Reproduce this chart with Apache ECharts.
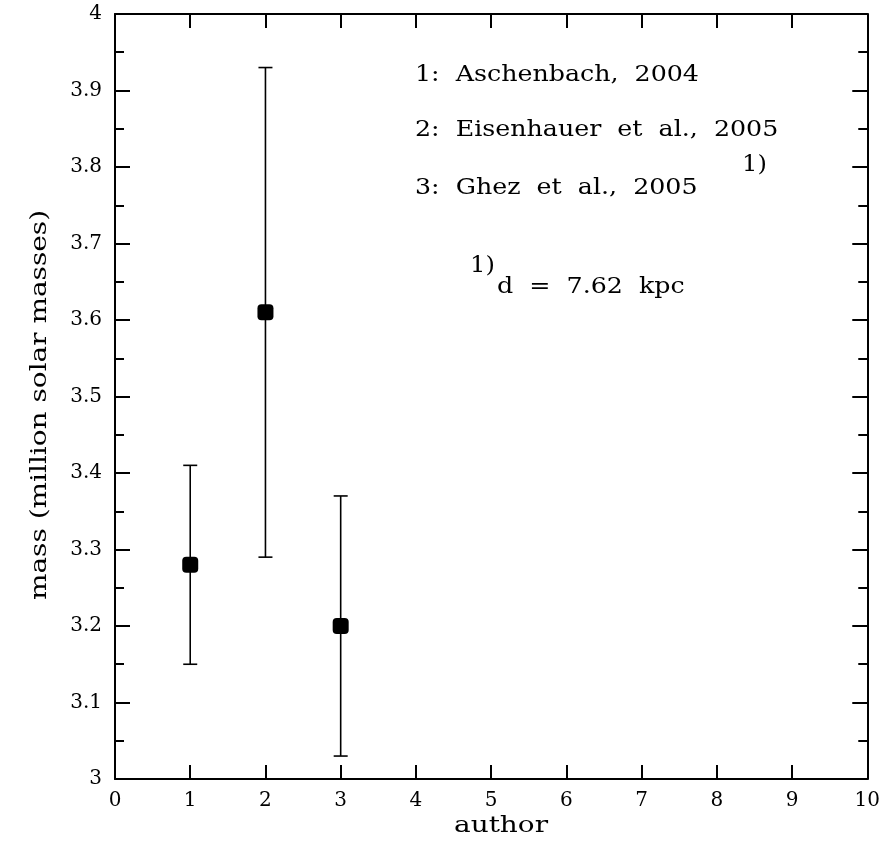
<!DOCTYPE html>
<html><head><meta charset="utf-8">
<script src="https://cdn.jsdelivr.net/npm/echarts@6/dist/echarts.min.js"></script>
<style>html,body{margin:0;padding:0;background:#fff}#c{width:883px;height:848px}</style>
</head><body><div id="c"></div>
<script>
const authors = [1, 2, 3];
const masses = [3.28, 3.61, 3.20];
const lowErr = [3.15, 3.29, 3.03];
const highErr = [3.41, 3.93, 3.37];
const xTicks = [0,1,2,3,4,5,6,7,8,9,10];
const yTicks = [3,3.1,3.2,3.3,3.4,3.5,3.6,3.7,3.8,3.9,4];
const notes = ['1:  Aschenbach,  2004', '2:  Eisenhauer  et  al.,  2005', '3:  Ghez  et  al.,  2005'];
const footnote = 'd  =  7.62  kpc';
const xTitle = 'author';
const yTitle = 'mass (million solar masses)';

const FONT = 'DejaVu Serif';
const chart = echarts.init(document.getElementById('c'));
const axisLine = {show:true, onZero:false, lineStyle:{color:'#000', width:2}};
const majorTick = (len)=>({show:true, inside:true, length:len, lineStyle:{color:'#000', width:2}});
const minorTick = {show:true, splitNumber:2, length:9, lineStyle:{color:'#000', width:2}};
const pts = authors.map((a,i)=>[a, masses[i]]);
const errs = authors.map((a,i)=>[a, lowErr[i], highErr[i]]);
function txt(s, x, y, size, sx, opts){
  return Object.assign({type:'text', x:x, y:y, scaleX:sx, silent:true,
    style:{text:s, x:0, y:0, font:size+'px "'+FONT+'"', fill:'#000',
      textAlign:(opts&&opts.align)||'left', textVerticalAlign:'middle'}}, opts&&opts.extra||{});
}
chart.setOption({
  animation:false,
  grid:{left:115, top:14, width:753, height:765, containLabel:false},
  xAxis:[
    {type:'value', min:xTicks[0], max:xTicks[xTicks.length-1], interval:1, position:'bottom',
     axisLine, axisTick:majorTick(14), splitLine:{show:false},
     axisLabel:{color:'#000', fontFamily:FONT, fontSize:20, margin:12}},
    {type:'value', min:0, max:10, interval:1, position:'top',
     axisLine, axisTick:majorTick(14), axisLabel:{show:false}, splitLine:{show:false}}
  ],
  yAxis:[
    {type:'value', min:yTicks[0], max:yTicks[yTicks.length-1], interval:0.1, position:'left',
     axisLine, axisTick:majorTick(15), minorTick,
     splitLine:{show:false}, minorSplitLine:{show:false},
     axisLabel:{color:'#000', fontFamily:FONT, fontSize:20, margin:13}},
    {type:'value', min:3, max:4, interval:0.1, position:'right',
     axisLine, axisTick:majorTick(15), minorTick,
     axisLabel:{show:false}, splitLine:{show:false}, minorSplitLine:{show:false}}
  ],
  series:[
    {type:'custom', xAxisIndex:0, yAxisIndex:0, data:errs,
     renderItem:function(params, api){
       const x = api.value(0), lo = api.value(1), hi = api.value(2);
       const p1 = api.coord([x, lo]), p2 = api.coord([x, hi]);
       const w = 7;
       const st = {stroke:'#000', lineWidth:1.6};
       return {type:'group', children:[
         {type:'line', shape:{x1:p1[0], y1:p1[1], x2:p2[0], y2:p2[1]}, style:st},
         {type:'line', shape:{x1:p1[0]-w, y1:p1[1], x2:p1[0]+w, y2:p1[1]}, style:st},
         {type:'line', shape:{x1:p2[0]-w, y1:p2[1], x2:p2[0]+w, y2:p2[1]}, style:st}
       ]};
     }},
    {type:'scatter', xAxisIndex:0, yAxisIndex:0, data:pts, symbol:'roundRect', symbolSize:16,
     itemStyle:{color:'#000', opacity:1}, z:5}
  ],
  graphic:[
    txt(notes[0], 415, 75, 22, 1.15),
    txt(notes[1], 415, 130, 22, 1.15),
    txt(notes[2], 415, 188, 22, 1.15),
    txt('1)', 742, 165, 22, 1.1),
    txt('1)', 470, 266, 22, 1.1),
    txt(footnote, 497, 287, 22, 1.15),
    txt(xTitle, 501, 826, 22, 1.27, {align:'center'}),
    txt(yTitle, 40, 405, 22, 1.27, {align:'center', extra:{rotation:Math.PI/2}})
  ]
});
</script></body></html>
